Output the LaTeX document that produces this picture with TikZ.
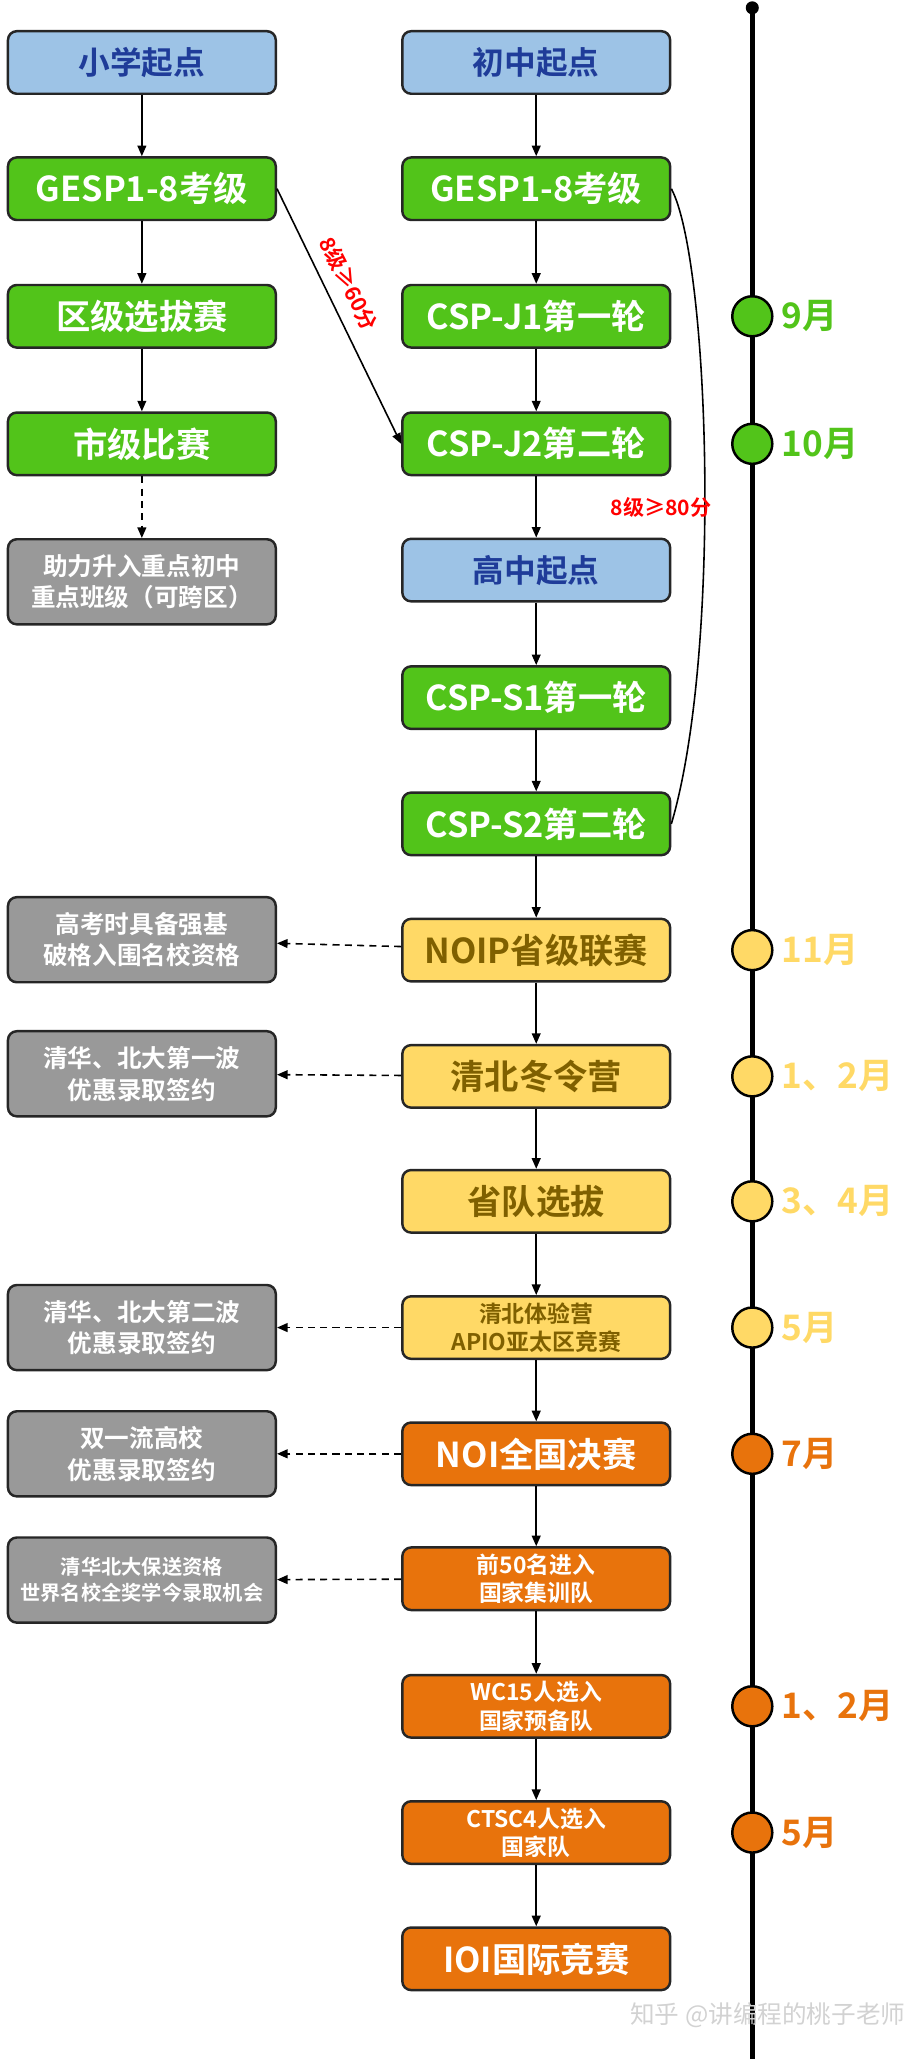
\documentclass[tikz,border=0pt]{standalone}
\usepackage{fontspec}
\setmainfont{Noto Sans CJK SC}[BoldFont={Noto Sans CJK SC Bold}]
\usetikzlibrary{arrows.meta}
\definecolor{bluefill}{HTML}{9DC3E6}
\definecolor{bluetext}{HTML}{1F3C99}
\definecolor{greenfill}{HTML}{52C41A}
\definecolor{grayfill}{HTML}{999999}
\definecolor{yellowfill}{HTML}{FFD966}
\definecolor{yellowtext}{HTML}{7F6000}
\definecolor{orangefill}{HTML}{E8730C}
\begin{document}
\begin{tikzpicture}[x=0.026cm,y=-0.026cm,font=\bfseries,
    box/.style={draw=black!85, line width=1.4pt, rounded corners=5pt, minimum width=5.35cm, minimum height=1.25cm, align=center, inner sep=1pt},
    blue box/.style={box, fill=bluefill, text=bluetext, font=\bfseries\fontsize{18}{20}\selectfont},
    green box/.style={box, fill=greenfill, text=white, font=\bfseries\fontsize{19.5}{20}\selectfont},
    gray box/.style={box, fill=grayfill, text=white, minimum height=1.7cm, font=\bfseries\fontsize{14}{18}\selectfont},
    yellow box/.style={box, fill=yellowfill, text=yellowtext, font=\bfseries\fontsize{19.5}{20}\selectfont},
    orange box/.style={box, fill=orangefill, text=white, font=\bfseries\fontsize{19.5}{20}\selectfont},
    small/.style={font=\bfseries\fontsize{13}{16}\selectfont},
    dot/.style={circle, draw=black, line width=1.4pt, minimum size=0.8cm, inner sep=0pt},
    month/.style={anchor=west, font=\bfseries\fontsize{20}{20}\selectfont},
    flow/.style={-{Triangle[length=6pt,width=5pt]}, line width=0.9pt},
    side/.style={flow, dash pattern=on 4pt off 3pt}]
\useasboundingbox (0,0) rectangle (700,1582);

% timeline
\coordinate (top) at (578,6);
\coordinate (bot) at (578,1582);
\draw[line width=3pt] (top) -- (bot);
\fill (top) circle (5);

% left column
\node[blue box]  (l1) at (109,48)  {小学起点};
\node[green box] (l2) at (109,145) {GESP1-8考级};
\node[green box] (l3) at (109,243) {区级选拔赛};
\node[green box] (l4) at (109,341) {市级比赛};
\node[gray box]  (l5) at (109,447) {助力升入重点初中\\重点班级（可跨区）};

% middle column
\node[blue box]   (m1)  at (412,48)   {初中起点};
\node[green box]  (m2)  at (412,145)  {GESP1-8考级};
\node[green box]  (m3)  at (412,243)  {CSP-J1第一轮};
\node[green box]  (m4)  at (412,341)  {CSP-J2第二轮};
\node[blue box]   (m5)  at (412,438)  {高中起点};
\node[green box]  (m6)  at (412,536)  {CSP-S1第一轮};
\node[green box]  (m7)  at (412,633)  {CSP-S2第二轮};
\node[yellow box] (m8)  at (412,730)  {NOIP省级联赛};
\node[yellow box] (m9)  at (412,827)  {清北冬令营};
\node[yellow box] (m10) at (412,923)  {省队选拔};
\node[yellow box, small] (m11) at (412,1020) {清北体验营\\APIO亚太区竞赛};
\node[orange box] (m12) at (412,1117) {NOI全国决赛};
\node[orange box, small] (m13) at (412,1213) {前50名进入\\国家集训队};
\node[orange box, small] (m14) at (412,1311) {WC15人选入\\国家预备队};
\node[orange box, small] (m15) at (412,1408) {CTSC4人选入\\国家队};
\node[orange box] (m16) at (412,1505) {IOI国际竞赛};

% outcomes
\node[gray box] (g8)  at (109,722)  {高考时具备强基\\破格入围名校资格};
\node[gray box] (g9)  at (109,825)  {清华、北大第一波\\优惠录取签约};
\node[gray box] (g11) at (109,1020) {清华、北大第二波\\优惠录取签约};
\node[gray box] (g12) at (109,1117) {双一流高校\\优惠录取签约};
\node[gray box, font=\bfseries\fontsize{11.5}{15}\selectfont] (g13) at (109,1214) {清华北大保送资格\\世界名校全奖学今录取机会};

% arrows
\foreach \a/\b in {l1/l2,l2/l3,l3/l4}
    \draw[flow] (\a) -- (\b);
\draw[side] (l4) -- (l5);
\foreach \a/\b in {m1/m2,m2/m3,m3/m4,m4/m5,m5/m6,m6/m7,m7/m8,m8/m9,m9/m10,m10/m11,m11/m12,m12/m13,m13/m14,m14/m15,m15/m16}
    \draw[flow] (\a) -- (\b);
\foreach \a/\b in {m8/g8,m9/g9,m11/g11,m12/g12,m13/g13}
    \draw[side] (\a) -- (\b);

\draw[flow] (l2.east) -- (m4.west);
\node[rotate=-63, text=red, font=\bfseries\fontsize{12}{14}\selectfont] (cond1) at (268,218) {8级≥60分};
\draw[line width=0.9pt] (m2.east) .. controls (545,200) and (555,500) .. (m7.east);
\node[text=red, font=\bfseries\fontsize{12}{14}\selectfont] (cond2) at (508,390) {8级≥80分};

% months
\foreach \y/\t/\c in {243/9月/greenfill, 341/10月/greenfill,
                      730/11月/yellowfill, 827/1、2月/yellowfill, 923/3、4月/yellowfill, 1020/5月/yellowfill,
                      1117/7月/orangefill, 1311/1、2月/orangefill, 1408/5月/orangefill}{
    \node[dot, fill=\c] (d\y) at (578,\y) {};
    \node[month, text=\c] at (596,\y) {\t};
}

\node[text=gray!35, font=\fontsize{14}{16}\selectfont] (mark) at (590,1548) {知乎 @讲编程的桃子老师};
\end{tikzpicture}
\end{document}
